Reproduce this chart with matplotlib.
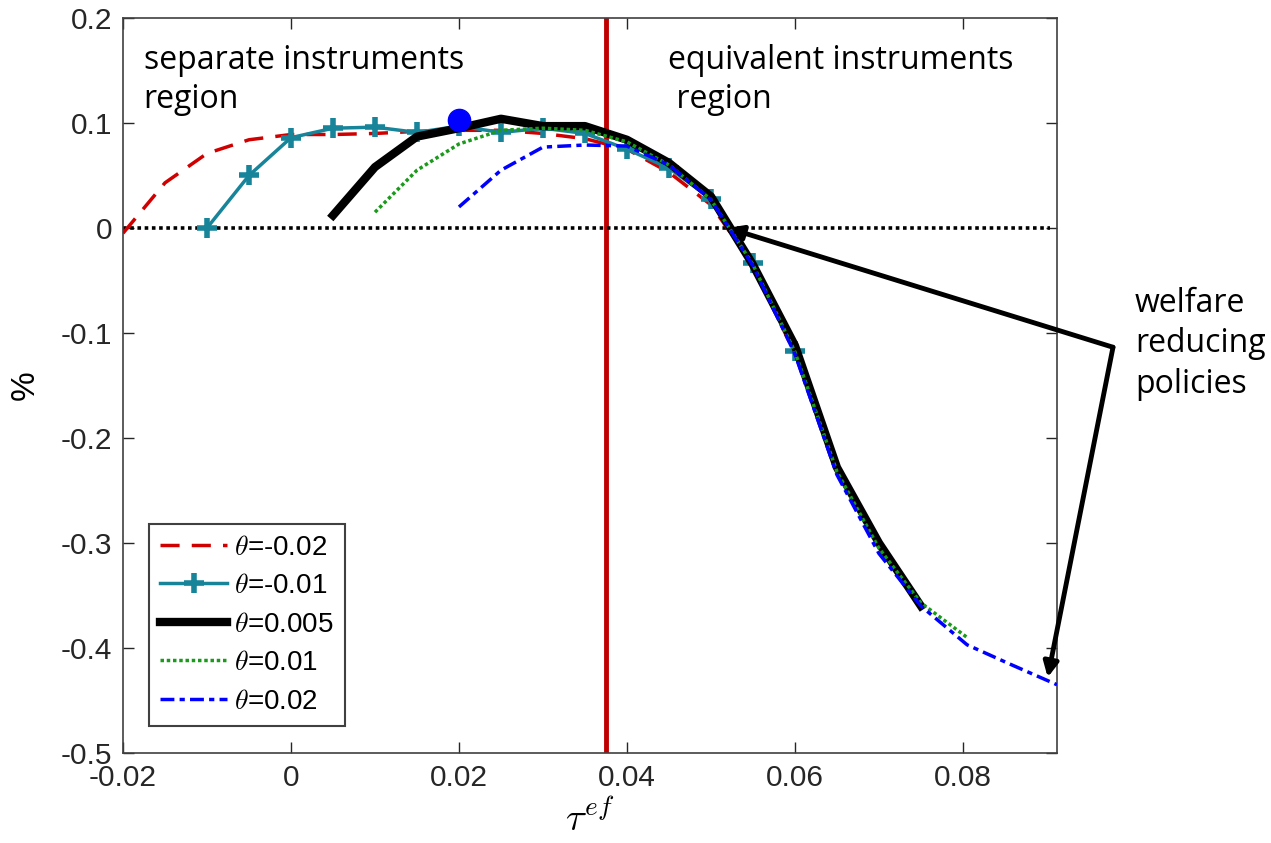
import numpy as np
import matplotlib.pyplot as plt

# tau^ef grid and welfare change (%) for each theta
x_m02 = [-0.02, -0.015, -0.01, -0.005, 0.0, 0.005, 0.01, 0.015, 0.02, 0.025,
         0.03, 0.035, 0.04, 0.045, 0.05, 0.055, 0.06]
y_m02 = [-0.005, 0.043, 0.071, 0.084, 0.089, 0.089, 0.090, 0.092, 0.093, 0.093,
         0.090, 0.085, 0.075, 0.053, 0.022, -0.035, -0.120]

x_m01 = [-0.01, -0.005, 0.0, 0.005, 0.01, 0.015, 0.02, 0.025, 0.03, 0.035,
         0.04, 0.045, 0.05, 0.055, 0.06]
y_m01 = [0.0, 0.050, 0.086, 0.095, 0.096, 0.091, 0.097, 0.091, 0.095, 0.090,
         0.075, 0.057, 0.028, -0.033, -0.117]

x_005 = [0.005, 0.01, 0.015, 0.02, 0.025, 0.03, 0.035, 0.04, 0.045, 0.05,
         0.055, 0.06, 0.065, 0.07, 0.075]
y_005 = [0.012, 0.058, 0.087, 0.095, 0.104, 0.097, 0.097, 0.084, 0.062, 0.030,
         -0.035, -0.112, -0.228, -0.300, -0.360]

x_01 = [0.01, 0.015, 0.02, 0.025, 0.03, 0.035, 0.04, 0.045, 0.05, 0.055,
        0.06, 0.065, 0.07, 0.075, 0.0805]
y_01 = [0.015, 0.055, 0.080, 0.093, 0.095, 0.093, 0.082, 0.060, 0.027, -0.035,
        -0.118, -0.232, -0.305, -0.357, -0.390]

x_02 = [0.02, 0.025, 0.03, 0.035, 0.04, 0.045, 0.05, 0.055, 0.06, 0.065,
        0.07, 0.075, 0.0805, 0.0855, 0.0912]
y_02 = [0.020, 0.055, 0.077, 0.079, 0.078, 0.060, 0.027, -0.036, -0.120, -0.235,
        -0.310, -0.360, -0.397, -0.415, -0.435]

opt_point = (0.02, 0.103)
tau_split = 0.0375
xticks = [-0.02, 0, 0.02, 0.04, 0.06, 0.08]
yticks = [-0.5, -0.4, -0.3, -0.2, -0.1, 0, 0.1, 0.2]

plt.rcParams['font.family'] = ['Liberation Sans', 'DejaVu Sans']
plt.rcParams['mathtext.fontset'] = 'cm'

fig = plt.figure(figsize=(12.71, 8.43), dpi=100)
ax = fig.add_axes([0.0968, 0.1068, 0.7348, 0.8719])

ax.axvline(tau_split, color='#C00000', lw=3.5, zorder=1)
ax.plot([-0.02, 0.0904], [0, 0], color='black', lw=2.6, ls=(0, (1, 1)), zorder=2)

ax.plot(x_m02, y_m02, color='#D00000', lw=2.5, dashes=(5.5, 3.5), label=r'$\theta$=-0.02', zorder=3)
ax.plot(x_m01, y_m01, color='#17849A', lw=2.5, marker='+', ms=15, mew=4,
        label=r'$\theta$=-0.01', zorder=3)
ax.plot(x_005, y_005, color='black', lw=6, label=r'$\theta$=0.005', zorder=4)
ax.plot(x_01, y_01, color='#1A9A1A', lw=2.5, ls=(0, (1, 0.8)), label=r'$\theta$=0.01', zorder=5)
ax.plot(x_02, y_02, color='#0000FF', lw=2.5, dashes=(4, 1.5, 1.5, 1.5), label=r'$\theta$=0.02', zorder=5)
ax.plot(*opt_point, 'o', color='#0000FF', ms=16, zorder=6)

ax.set_xlim(-0.02, 0.0912)
ax.set_ylim(-0.5, 0.2)
ax.set_xticks(xticks)
ax.set_xticklabels(['-0.02', '0', '0.02', '0.04', '0.06', '0.08'])
ax.set_yticks(yticks)
ax.set_yticklabels(['-0.5', '-0.4', '-0.3', '-0.2', '-0.1', '0', '0.1', '0.2'])
ax.tick_params(direction='in', length=8, width=1, top=True, right=True,
               labelsize=21.5, colors='#262626', pad=8)
for s in ax.spines.values():
    s.set_color('#404040')
    s.set_linewidth(1.2)

ax.set_xlabel(r'$\tau^{ef}$', fontsize=28, labelpad=5)
ax.set_ylabel('%', fontsize=24, labelpad=14)

leg = ax.legend(loc='lower left', bbox_to_anchor=(0.028, 0.037), borderaxespad=0,
                fontsize=20, handlelength=2.4, handletextpad=0.25, labelspacing=0.45,
                borderpad=0.4, fancybox=False, framealpha=1)
leg.get_frame().set_edgecolor('#404040')
leg.get_frame().set_linewidth(1.5)

ax.text(0.022, 0.965, 'separate instruments\nregion', transform=ax.transAxes,
        fontsize=23, family='Open Sans', va='top', ha='left', linespacing=1.25)
ax.text(0.583, 0.965, 'equivalent instruments\n region', transform=ax.transAxes,
        fontsize=23, family='Open Sans', va='top', ha='left', linespacing=1.25)
fig.text(0.893, 0.66, 'welfare\nreducing\npolicies', fontsize=23, family='Open Sans',
         ha='left', va='top', linespacing=1.3)

arrow = dict(arrowstyle='-|>', lw=3.5, color='black', mutation_scale=22,
             shrinkA=0, shrinkB=0)
ax.annotate('', xy=(0.052, 0.0), xytext=(1.06, 0.552), textcoords='axes fraction',
            arrowprops=arrow, annotation_clip=False)
ax.annotate('', xy=(0.0901, -0.428), xytext=(1.06, 0.552), textcoords='axes fraction',
            arrowprops=arrow, annotation_clip=False)

fig.savefig('out.png', dpi=100)
